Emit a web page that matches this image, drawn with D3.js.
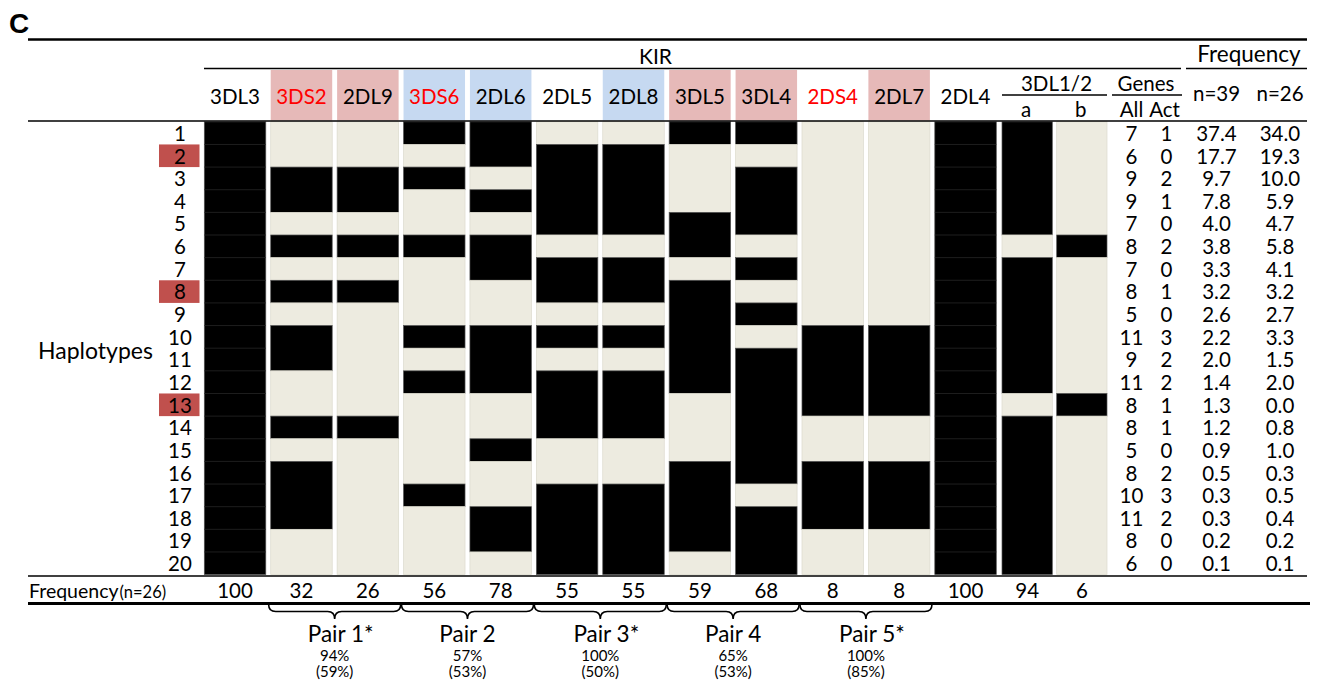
<!DOCTYPE html>
<html><head><meta charset="utf-8">
<script src="https://cdn.jsdelivr.net/npm/d3@7"></script>
<style>
html,body{margin:0;padding:0;background:#fff;}
svg text{font-family:Lato,"Noto Sans",sans-serif;fill:#000;}
</style></head>
<body><svg id="c" width="1317" height="684"></svg>
<script>
// ---------------- data ----------------
const haplotypes = d3.range(1, 21);
const highlighted = [2, 8, 13];
const mainGenes = ["3DL3","3DS2","2DL9","3DS6","2DL6","2DL5","2DL8","3DL5","3DL4","2DS4","2DL7","2DL4"];
const subGenes = ["a","b"]; // 3DL1/2 alleles
const activatingGenes = ["3DS2","3DS6","2DS4"];
const pinkGenes = ["3DS2","2DL9","3DL5","3DL4","2DL7"];
const blueGenes = ["3DS6","2DL6","2DL8"];
// presence (1) / absence (0) per haplotype 1..20, per gene column
const g3DL3 = [1,1,1,1,1,1,1,1,1,1,1,1,1,1,1,1,1,1,1,1];
const g3DS2 = [0,0,1,1,0,1,0,1,0,1,1,0,0,1,0,1,1,1,0,0];
const g2DL9 = [0,0,1,1,0,1,0,1,0,0,0,0,0,1,0,0,0,0,0,0];
const g3DS6 = [1,0,1,0,0,1,0,0,0,1,0,1,0,0,0,0,1,0,0,0];
const g2DL6 = [1,1,0,1,0,1,1,0,0,1,1,1,0,0,1,0,0,1,1,0];
const g2DL5 = [0,1,1,1,1,0,1,1,0,1,0,1,1,1,0,0,1,1,1,1];
const g2DL8 = [0,1,1,1,1,0,1,1,0,1,0,1,1,1,0,0,1,1,1,1];
const g3DL5 = [1,0,0,0,1,1,0,1,1,1,1,1,0,0,0,1,1,1,1,0];
const g3DL4 = [1,0,1,1,1,0,1,0,1,0,1,1,1,1,1,1,0,1,1,1];
const g2DS4 = [0,0,0,0,0,0,0,0,0,1,1,1,1,0,0,1,1,1,0,0];
const g2DL7 = [0,0,0,0,0,0,0,0,0,1,1,1,1,0,0,1,1,1,0,0];
const g2DL4 = [1,1,1,1,1,1,1,1,1,1,1,1,1,1,1,1,1,1,1,1];
const g3DL1a = [1,1,1,1,1,0,1,1,1,1,1,1,0,1,1,1,1,1,1,1];
const g3DL1b = [0,0,0,0,0,1,0,0,0,0,0,0,1,0,0,0,0,0,0,0];
const genesAll = [7,6,9,9,7,8,7,8,5,11,9,11,8,8,5,8,10,11,8,6];
const genesAct = [1,0,2,1,0,2,0,1,0,3,2,2,1,1,0,2,3,2,0,0];
const freqN39 = ["37.4","17.7","9.7","7.8","4.0","3.8","3.3","3.2","2.6","2.2","2.0","1.4","1.3","1.2","0.9","0.5","0.3","0.3","0.2","0.1"];
const freqN26 = ["34.0","19.3","10.0","5.9","4.7","5.8","4.1","3.2","2.7","3.3","1.5","2.0","0.0","0.8","1.0","0.3","0.5","0.4","0.2","0.1"];
const geneFreq = [100,32,26,56,78,55,55,59,68,8,8,100,94,6];
const pairNames = ["Pair 1*","Pair 2","Pair 3*","Pair 4","Pair 5*"];
const pairGenes = [["3DS2","2DL9"],["3DS6","2DL6"],["2DL5","2DL8"],["3DL5","3DL4"],["2DS4","2DL7"]];
const pairPct = ["94%","57%","100%","65%","100%"];
const pairPctParen = ["(59%)","(53%)","(50%)","(53%)","(85%)"];

const columns = [
  {key:"3DL3",v:g3DL3},{key:"3DS2",v:g3DS2},{key:"2DL9",v:g2DL9},{key:"3DS6",v:g3DS6},
  {key:"2DL6",v:g2DL6},{key:"2DL5",v:g2DL5},{key:"2DL8",v:g2DL8},{key:"3DL5",v:g3DL5},
  {key:"3DL4",v:g3DL4},{key:"2DS4",v:g2DS4},{key:"2DL7",v:g2DL7},{key:"2DL4",v:g2DL4},
  {key:"a",v:g3DL1a},{key:"b",v:g3DL1b}
];

// ---------------- layout ----------------
const svg = d3.select("#c");
const LEFT = 28, RIGHT = 1307;
const x = d3.scaleBand().domain(mainGenes).range([204.3, 996.3]).paddingInner(0.074).paddingOuter(0);
const xs = d3.scaleBand().domain(subGenes).range([1002, 1107]).paddingInner(0.08).paddingOuter(0);
const y = d3.scaleBand().domain(haplotypes).range([121.8, 574.6]).padding(0);
const colX = k => subGenes.includes(k) ? xs(k) : x(k);
const colW = k => subGenes.includes(k) ? xs.bandwidth() : x.bandwidth();
const colC = k => colX(k) + colW(k) / 2;
const xAll = 1131.5, xAct = 1166.5, xN39 = 1216.5, xN26 = 1280;

const BLACK = "#000", LIGHT = "#EDEBE0", PINK = "#E6B9B8", BLUE = "#C6D9F1", RED = "#FF0000", HILITE = "#C0504D";

// title letter
svg.append("text").attr("x", 9).attr("y", 33).style("font-family", "'Liberation Sans',Arial,sans-serif")
  .style("font-weight", "bold").style("font-size", "28px").text("C");

// top rule
svg.append("line").attr("x1", LEFT).attr("x2", RIGHT).attr("y1", 39.5).attr("y2", 39.5).attr("stroke", "#000").attr("stroke-width", 2.6);

// KIR header
svg.append("text").attr("x", 655.5).attr("y", 64).attr("text-anchor", "middle").style("font-size", "21px").text("KIR");
svg.append("line").attr("x1", 204).attr("x2", 1181).attr("y1", 68.5).attr("y2", 68.5).attr("stroke", "#000").attr("stroke-width", 1.6);
svg.append("text").attr("x", 1249).attr("y", 62).attr("text-anchor", "middle").style("font-size", "22.5px").text("Frequency");
svg.append("line").attr("x1", 1186).attr("x2", RIGHT).attr("y1", 68.5).attr("y2", 68.5).attr("stroke", "#000").attr("stroke-width", 1.6);

// header boxes
const hdr = svg.append("g");
hdr.selectAll("rect").data(mainGenes.filter(g => pinkGenes.includes(g) || blueGenes.includes(g))).join("rect")
  .attr("x", d => x(d)).attr("width", x.bandwidth()).attr("y", 70).attr("height", 50.5)
  .attr("fill", d => pinkGenes.includes(d) ? PINK : BLUE);
hdr.selectAll("text").data(mainGenes).join("text")
  .attr("x", d => colC(d)).attr("y", 104).attr("text-anchor", "middle").style("font-size", "20.5px")
  .style("fill", d => activatingGenes.includes(d) ? RED : "#000").text(d => d);

// 3DL1/2 sub-header
svg.append("text").attr("x", 1056.5).attr("y", 90.5).attr("text-anchor", "middle").style("font-size", "20.5px").text("3DL1/2");
svg.append("line").attr("x1", 1002).attr("x2", 1107).attr("y1", 95).attr("y2", 95).attr("stroke", "#000").attr("stroke-width", 1.3);
svg.selectAll("text.sub").data(subGenes).join("text").attr("class", "sub")
  .attr("x", d => colC(d) - 1).attr("y", 117).attr("text-anchor", "middle").style("font-size", "20.5px").text(d => d);
svg.append("text").attr("x", 1146).attr("y", 90.5).attr("text-anchor", "middle").style("font-size", "20.5px").text("Genes");
svg.append("line").attr("x1", 1112).attr("x2", 1182).attr("y1", 95).attr("y2", 95).attr("stroke", "#000").attr("stroke-width", 1.3);
svg.append("text").attr("x", xAll).attr("y", 117).attr("text-anchor", "middle").style("font-size", "20.5px").text("All");
svg.append("text").attr("x", xAct - 2).attr("y", 117).attr("text-anchor", "middle").style("font-size", "20.5px").text("Act");
svg.append("text").attr("x", xN39).attr("y", 101).attr("text-anchor", "middle").style("font-size", "20.5px").text("n=39");
svg.append("text").attr("x", xN26).attr("y", 101).attr("text-anchor", "middle").style("font-size", "20.5px").text("n=26");

// grid cells: merge consecutive runs
const grid = svg.append("g");
columns.forEach(col => {
  const runs = [];
  col.v.forEach((v, i) => {
    const last = runs[runs.length - 1];
    if (last && last.v === v) last.end = i; else runs.push({v, start: i, end: i});
  });
  runs.forEach(r => {
    grid.append("rect")
      .attr("x", colX(col.key)).attr("width", colW(col.key))
      .attr("y", y(haplotypes[r.start])).attr("height", y(haplotypes[r.end]) + y.bandwidth() - y(haplotypes[r.start]))
      .attr("fill", r.v ? BLACK : LIGHT)
      .attr("stroke", r.v ? "#555" : "#dcdacd").attr("stroke-width", 0.7);
  });
  if (col.v.every(v => v === 1)) {
    grid.selectAll(null).data(haplotypes.slice(1)).join("line")
      .attr("x1", colX(col.key)).attr("x2", colX(col.key) + colW(col.key))
      .attr("y1", d => y(d)).attr("y2", d => y(d)).attr("stroke", "#262626").attr("stroke-width", 0.8);
  }
});

// header bottom rule & grid bottom rule
svg.append("line").attr("x1", LEFT).attr("x2", RIGHT).attr("y1", 121).attr("y2", 121).attr("stroke", "#000").attr("stroke-width", 1.5);
svg.append("line").attr("x1", LEFT).attr("x2", RIGHT).attr("y1", 576).attr("y2", 576).attr("stroke", "#000").attr("stroke-width", 1.5);

// row labels
svg.selectAll("rect.hl").data(highlighted).join("rect").attr("class", "hl")
  .attr("x", 159).attr("width", 40.5).attr("y", d => y(d)).attr("height", y.bandwidth()).attr("fill", HILITE);
svg.selectAll("text.row").data(haplotypes).join("text").attr("class", "row")
  .attr("x", 180).attr("y", d => y(d) + y.bandwidth() / 2 + 7.8).attr("text-anchor", "middle")
  .style("font-size", "20.5px").text(d => d);
svg.append("text").attr("x", 95.5).attr("y", 359).attr("text-anchor", "middle").style("font-size", "23px").text("Haplotypes");

// right-hand table
const tbl = [[genesAll, xAll], [genesAct, xAct], [freqN39, xN39], [freqN26, xN26]];
tbl.forEach(([arr, cx]) => {
  svg.append("g").selectAll("text").data(arr).join("text")
    .attr("x", cx).attr("y", (d, i) => y(haplotypes[i]) + y.bandwidth() / 2 + 7.8).attr("text-anchor", "middle")
    .style("font-size", "20.5px").text(d => d);
});

// frequency row
svg.append("text").attr("x", 29).attr("y", 598).style("font-size", "19.5px")
  .text("Frequency").append("tspan").style("font-size", "16.5px").attr("dx", 1).text("(n=26)");
svg.append("g").selectAll("text").data(columns.map(c => c.key)).join("text")
  .attr("x", d => colC(d)).attr("y", 598).attr("text-anchor", "middle").style("font-size", "20.5px")
  .text((d, i) => geneFreq[i]);
svg.append("line").attr("x1", LEFT).attr("x2", 1310).attr("y1", 603.5).attr("y2", 603.5).attr("stroke", "#000").attr("stroke-width", 3);

// braces and pair labels
pairGenes.forEach((pg, i) => {
  const x0 = x(pg[0]) - 2, x1 = x(pg[1]) + x.bandwidth() + 2, m = (x0 + x1) / 2;
  const t = 605, h = 611.5, tip = 619, r = 7;
  const p = d3.path();
  p.moveTo(x0, t); p.quadraticCurveTo(x0, h, x0 + r, h); p.lineTo(m - r, h); p.quadraticCurveTo(m, h, m, tip);
  p.quadraticCurveTo(m, h, m + r, h); p.lineTo(x1 - r, h); p.quadraticCurveTo(x1, h, x1, t);
  svg.append("path").attr("d", p.toString()).attr("fill", "none").attr("stroke", "#000").attr("stroke-width", 1.6);
  const star = pairNames[i].endsWith("*");
  svg.append("text").attr("x", m + (star ? 6 : 0)).attr("y", 641.5).attr("text-anchor", "middle").style("font-size", "22.5px").text(pairNames[i]);
  svg.append("text").attr("x", m).attr("y", 661).attr("text-anchor", "middle").style("font-size", "15px").text(pairPct[i]);
  svg.append("text").attr("x", m).attr("y", 677).attr("text-anchor", "middle").style("font-size", "15px").text(pairPctParen[i]);
});
</script></body></html>
